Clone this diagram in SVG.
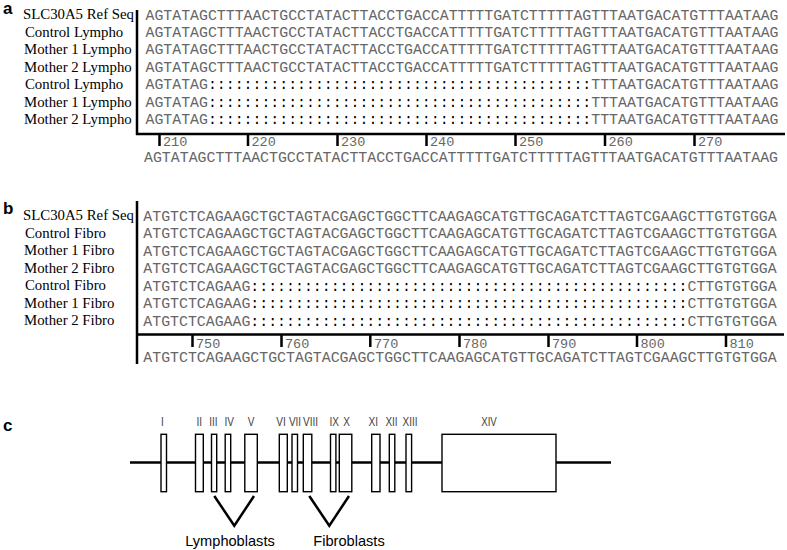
<svg xmlns="http://www.w3.org/2000/svg" width="787" height="550" viewBox="0 0 787 550">
<style>
.pl{font-family:"Liberation Sans",Arial,sans-serif;font-weight:bold;font-size:17px;fill:#000}
.lb{font-family:"Liberation Serif","Times New Roman",serif;font-size:14.8px;fill:#000}
.sq{font-family:"Liberation Mono","Courier New",monospace;font-size:14px;fill:#666}
.cl{fill:#000}
.num{font-family:"Liberation Mono","Courier New",monospace;font-size:13.5px;fill:#666}
.ax{stroke:#000;stroke-width:2.5;fill:none}
.tk{stroke:#000;stroke-width:2.5}
.ex{fill:#fff;stroke:#000;stroke-width:1.4}
.el{font-family:"Liberation Sans",Arial,sans-serif;font-size:12px;fill:#444;text-anchor:middle}
.cap{font-family:"Liberation Sans",Arial,sans-serif;font-size:14.6px;fill:#000;text-anchor:middle}
.vl{stroke:#000;stroke-width:2.5;fill:none}
</style>
<rect width="787" height="550" fill="#fff"/>

<g id="panel-a">
<text class="pl" x="3" y="14">a</text>
<g id="a-labels">
<text class="lb" x="23" y="19.3">SLC30A5 Ref Seq</text>
<text class="lb" x="25" y="36.8">Control Lympho</text>
<text class="lb" x="24" y="54.2">Mother 1 Lympho</text>
<text class="lb" x="24" y="71.7">Mother 2 Lympho</text>
<text class="lb" x="25" y="89.1">Control Lympho</text>
<text class="lb" x="24" y="106.6">Mother 1 Lympho</text>
<text class="lb" x="24" y="124">Mother 2 Lympho</text>
</g>
<g id="a-seqs">
<text class="sq" x="145.5" y="19.5" textLength="633" lengthAdjust="spacingAndGlyphs">AGTATAGCTTTAACTGCCTATACTTACCTGACCATTTTTGATCTTTTTAGTTTAATGACATGTTTAATAAG</text>
<text class="sq" x="145.5" y="37" textLength="633" lengthAdjust="spacingAndGlyphs">AGTATAGCTTTAACTGCCTATACTTACCTGACCATTTTTGATCTTTTTAGTTTAATGACATGTTTAATAAG</text>
<text class="sq" x="145.5" y="54.4" textLength="633" lengthAdjust="spacingAndGlyphs">AGTATAGCTTTAACTGCCTATACTTACCTGACCATTTTTGATCTTTTTAGTTTAATGACATGTTTAATAAG</text>
<text class="sq" x="145.5" y="71.9" textLength="633" lengthAdjust="spacingAndGlyphs">AGTATAGCTTTAACTGCCTATACTTACCTGACCATTTTTGATCTTTTTAGTTTAATGACATGTTTAATAAG</text>
<text class="sq" x="145.5" y="89.3" textLength="633" lengthAdjust="spacingAndGlyphs">AGTATAG<tspan class="cl">:::::::::::::::::::::::::::::::::::::::::::</tspan>TTTAATGACATGTTTAATAAG</text>
<text class="sq" x="145.5" y="106.8" textLength="633" lengthAdjust="spacingAndGlyphs">AGTATAG<tspan class="cl">:::::::::::::::::::::::::::::::::::::::::::</tspan>TTTAATGACATGTTTAATAAG</text>
<text class="sq" x="145.5" y="124.2" textLength="633" lengthAdjust="spacingAndGlyphs">AGTATAG<tspan class="cl">:::::::::::::::::::::::::::::::::::::::::::</tspan>TTTAATGACATGTTTAATAAG</text>
</g>
<g id="a-ruler">
<path class="ax" d="M137 10 V135 M136 134 H785"/>
<path class="tk" d="M159.5 134 V146 M248 134 V146 M337.5 134 V146 M426.5 134 V146 M515.5 134 V146 M605 134 V146 M694.5 134 V146"/>
<text class="num" x="163" y="146">210</text>
<text class="num" x="251.5" y="146">220</text>
<text class="num" x="341" y="146">230</text>
<text class="num" x="430" y="146">240</text>
<text class="num" x="519" y="146">250</text>
<text class="num" x="608.5" y="146">260</text>
<text class="num" x="698" y="146">270</text>
<text class="sq" x="144" y="162" textLength="634" lengthAdjust="spacingAndGlyphs">AGTATAGCTTTAACTGCCTATACTTACCTGACCATTTTTGATCTTTTTAGTTTAATGACATGTTTAATAAG</text>
</g>
</g>

<g id="panel-b">
<text class="pl" x="3" y="213.5">b</text>
<g id="b-labels">
<text class="lb" x="23" y="220">SLC30A5 Ref Seq</text>
<text class="lb" x="25" y="237.5">Control Fibro</text>
<text class="lb" x="24" y="255">Mother 1 Fibro</text>
<text class="lb" x="24" y="272.5">Mother 2 Fibro</text>
<text class="lb" x="25" y="290">Control Fibro</text>
<text class="lb" x="24" y="307.5">Mother 1 Fibro</text>
<text class="lb" x="24" y="325">Mother 2 Fibro</text>
</g>
<g id="b-seqs">
<text class="sq" x="143.3" y="220.5" textLength="633.4" lengthAdjust="spacingAndGlyphs">ATGTCTCAGAAGCTGCTAGTACGAGCTGGCTTCAAGAGCATGTTGCAGATCTTAGTCGAAGCTTGTGTGGA</text>
<text class="sq" x="143.3" y="238" textLength="633.4" lengthAdjust="spacingAndGlyphs">ATGTCTCAGAAGCTGCTAGTACGAGCTGGCTTCAAGAGCATGTTGCAGATCTTAGTCGAAGCTTGTGTGGA</text>
<text class="sq" x="143.3" y="255.5" textLength="633.4" lengthAdjust="spacingAndGlyphs">ATGTCTCAGAAGCTGCTAGTACGAGCTGGCTTCAAGAGCATGTTGCAGATCTTAGTCGAAGCTTGTGTGGA</text>
<text class="sq" x="143.3" y="273" textLength="633.4" lengthAdjust="spacingAndGlyphs">ATGTCTCAGAAGCTGCTAGTACGAGCTGGCTTCAAGAGCATGTTGCAGATCTTAGTCGAAGCTTGTGTGGA</text>
<text class="sq" x="143.3" y="290.5" textLength="633.4" lengthAdjust="spacingAndGlyphs">ATGTCTCAGAAG<tspan class="cl">:::::::::::::::::::::::::::::::::::::::::::::::::</tspan>CTTGTGTGGA</text>
<text class="sq" x="143.3" y="308" textLength="633.4" lengthAdjust="spacingAndGlyphs">ATGTCTCAGAAG<tspan class="cl">:::::::::::::::::::::::::::::::::::::::::::::::::</tspan>CTTGTGTGGA</text>
<text class="sq" x="143.3" y="325.5" textLength="633.4" lengthAdjust="spacingAndGlyphs">ATGTCTCAGAAG<tspan class="cl">:::::::::::::::::::::::::::::::::::::::::::::::::</tspan>CTTGTGTGGA</text>
</g>
<g id="b-ruler">
<path class="ax" d="M137 201 V364 M136 334.5 H784"/>
<path class="tk" d="M192.5 334.5 V347 M281.5 334.5 V347 M370.3 334.5 V347 M459.5 334.5 V347 M548.5 334.5 V347 M637 334.5 V347 M726 334.5 V347"/>
<text class="num" x="196" y="347.5">750</text>
<text class="num" x="285" y="347.5">760</text>
<text class="num" x="374" y="347.5">770</text>
<text class="num" x="463" y="347.5">780</text>
<text class="num" x="552" y="347.5">790</text>
<text class="num" x="640.5" y="347.5">800</text>
<text class="num" x="729.5" y="347.5">810</text>
<text class="sq" x="143.3" y="362" textLength="633.4" lengthAdjust="spacingAndGlyphs">ATGTCTCAGAAGCTGCTAGTACGAGCTGGCTTCAAGAGCATGTTGCAGATCTTAGTCGAAGCTTGTGTGGA</text>
</g>
</g>

<g id="panel-c">
<text class="pl" x="3" y="430.7">c</text>
<g id="connectors">
<path id="intron" d="M130 462.5 H611" stroke="#000" stroke-width="2.6" fill="none"/>
<path id="v-lympho" class="vl" d="M214.3 496 L234.3 525.7 L254 496"/>
<path id="v-fibro" class="vl" d="M309.3 496 L329.3 525.7 L349 496"/>
</g>
<g id="exon-I"><rect class="ex" x="161" y="434.3" width="5.5" height="57.4"/><text class="el" x="162.3" y="426" textLength="2.8" lengthAdjust="spacingAndGlyphs">I</text></g>
<g id="exon-II"><rect class="ex" x="195.5" y="434.3" width="7.8" height="57.4"/><text class="el" x="199.3" y="426" textLength="5.6" lengthAdjust="spacingAndGlyphs">II</text></g>
<g id="exon-III"><rect class="ex" x="211.5" y="434.3" width="5.2" height="57.4"/><text class="el" x="213.5" y="426" textLength="8.3" lengthAdjust="spacingAndGlyphs">III</text></g>
<g id="exon-IV"><rect class="ex" x="225.2" y="434.3" width="5.5" height="57.4"/><text class="el" x="229.3" y="426" textLength="9.5" lengthAdjust="spacingAndGlyphs">IV</text></g>
<g id="exon-V"><rect class="ex" x="244.8" y="434.3" width="12.5" height="57.4"/><text class="el" x="251" y="426" textLength="6.7" lengthAdjust="spacingAndGlyphs">V</text></g>
<g id="exon-VI"><rect class="ex" x="279.3" y="434.3" width="8" height="57.4"/><text class="el" x="281" y="426" textLength="9.5" lengthAdjust="spacingAndGlyphs">VI</text></g>
<g id="exon-VII"><rect class="ex" x="292" y="434.3" width="5.5" height="57.4"/><text class="el" x="295" y="426" textLength="12.2" lengthAdjust="spacingAndGlyphs">VII</text></g>
<g id="exon-VIII"><rect class="ex" x="303.3" y="434.3" width="8.5" height="57.4"/><text class="el" x="310.5" y="426" textLength="15" lengthAdjust="spacingAndGlyphs">VIII</text></g>
<g id="exon-IX"><rect class="ex" x="330.5" y="434.3" width="5.4" height="57.4"/><text class="el" x="334.3" y="426" textLength="9.5" lengthAdjust="spacingAndGlyphs">IX</text></g>
<g id="exon-X"><rect class="ex" x="339.3" y="434.3" width="12.5" height="57.4"/><text class="el" x="346.7" y="426" textLength="6.7" lengthAdjust="spacingAndGlyphs">X</text></g>
<g id="exon-XI"><rect class="ex" x="371.7" y="434.3" width="8.3" height="57.4"/><text class="el" x="373.3" y="426" textLength="9.5" lengthAdjust="spacingAndGlyphs">XI</text></g>
<g id="exon-XII"><rect class="ex" x="389.3" y="434.3" width="5.5" height="57.4"/><text class="el" x="391.5" y="426" textLength="12.2" lengthAdjust="spacingAndGlyphs">XII</text></g>
<g id="exon-XIII"><rect class="ex" x="406" y="434.3" width="5.6" height="57.4"/><text class="el" x="410" y="426" textLength="15" lengthAdjust="spacingAndGlyphs">XIII</text></g>
<g id="exon-XIV"><rect class="ex" x="442" y="434.3" width="114" height="57.4"/><text class="el" x="489" y="426" textLength="15.7" lengthAdjust="spacingAndGlyphs">XIV</text></g>
<text class="cap" x="230" y="545.5">Lymphoblasts</text>
<text class="cap" x="349" y="545.5">Fibroblasts</text>
</g>
</svg>
